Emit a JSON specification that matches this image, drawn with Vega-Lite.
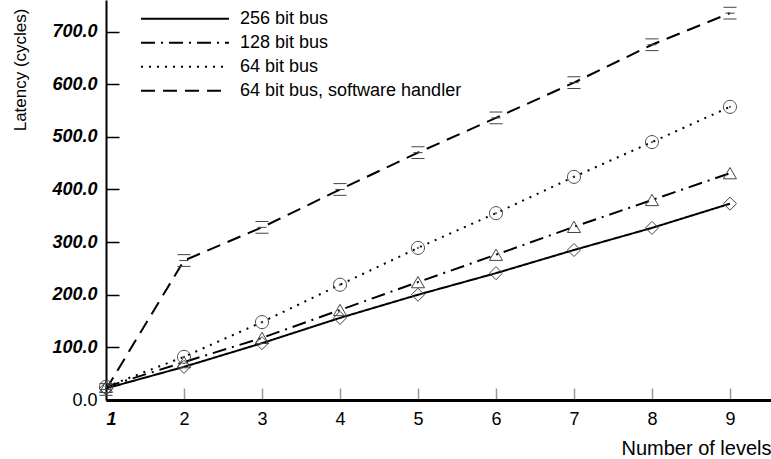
{
  "$schema": "https://vega.github.io/schema/vega-lite/v6.json",
  "autosize": "none",
  "padding": {"left": 106, "top": 0, "right": 0, "bottom": 59},
  "width": 665,
  "height": 400,
  "background": "white",
  "config": {
    "font": "Liberation Sans",
    "view": {"stroke": null},
    "point": {"filled": false, "color": "#444", "strokeWidth": 1, "size": 170, "opacity": 1}
  },
  "data": {
    "values": [
      {"levels": 1, "latency": 22, "series": "256 bit bus"},
      {"levels": 2, "latency": 63, "series": "256 bit bus"},
      {"levels": 3, "latency": 108, "series": "256 bit bus"},
      {"levels": 4, "latency": 156, "series": "256 bit bus"},
      {"levels": 5, "latency": 200, "series": "256 bit bus"},
      {"levels": 6, "latency": 241, "series": "256 bit bus"},
      {"levels": 7, "latency": 285, "series": "256 bit bus"},
      {"levels": 8, "latency": 327, "series": "256 bit bus"},
      {"levels": 9, "latency": 373, "series": "256 bit bus"},
      {"levels": 1, "latency": 25, "series": "128 bit bus"},
      {"levels": 2, "latency": 72, "series": "128 bit bus"},
      {"levels": 3, "latency": 118, "series": "128 bit bus"},
      {"levels": 4, "latency": 171, "series": "128 bit bus"},
      {"levels": 5, "latency": 224, "series": "128 bit bus"},
      {"levels": 6, "latency": 276, "series": "128 bit bus"},
      {"levels": 7, "latency": 329, "series": "128 bit bus"},
      {"levels": 8, "latency": 380, "series": "128 bit bus"},
      {"levels": 9, "latency": 431, "series": "128 bit bus"},
      {"levels": 1, "latency": 25, "series": "64 bit bus"},
      {"levels": 2, "latency": 82, "series": "64 bit bus"},
      {"levels": 3, "latency": 148, "series": "64 bit bus"},
      {"levels": 4, "latency": 219, "series": "64 bit bus"},
      {"levels": 5, "latency": 289, "series": "64 bit bus"},
      {"levels": 6, "latency": 355, "series": "64 bit bus"},
      {"levels": 7, "latency": 424, "series": "64 bit bus"},
      {"levels": 8, "latency": 490, "series": "64 bit bus"},
      {"levels": 9, "latency": 557, "series": "64 bit bus"},
      {"levels": 1, "latency": 20, "series": "64 bit bus, software handler"},
      {"levels": 2, "latency": 265, "series": "64 bit bus, software handler"},
      {"levels": 3, "latency": 328, "series": "64 bit bus, software handler"},
      {"levels": 4, "latency": 400, "series": "64 bit bus, software handler"},
      {"levels": 5, "latency": 470, "series": "64 bit bus, software handler"},
      {"levels": 6, "latency": 536, "series": "64 bit bus, software handler"},
      {"levels": 7, "latency": 603, "series": "64 bit bus, software handler"},
      {"levels": 8, "latency": 675, "series": "64 bit bus, software handler"},
      {"levels": 9, "latency": 735, "series": "64 bit bus, software handler"}
    ]
  },
  "encoding": {
    "x": {
      "field": "levels",
      "type": "quantitative",
      "scale": {"domain": [1, 9.526], "nice": false, "zero": false},
      "axis": {
        "values": [1, 2, 3, 4, 5, 6, 7, 8, 9],
        "format": "d",
        "grid": false,
        "domainColor": "black",
        "domainWidth": 3,
        "tickColor": "#999",
        "tickWidth": 1.5,
        "tickSize": -12,
        "labelFontSize": 18,
        "labelColor": "black",
        "labelPadding": 22,
        "labelFontWeight": {"condition": {"test": "datum.value === 1", "value": "bold"}, "value": "normal"},
        "labelFontStyle": {"condition": {"test": "datum.value === 1", "value": "italic"}, "value": "normal"},
        "title": "Number of levels",
        "titleFontSize": 20,
        "titleFontWeight": "normal",
        "titleColor": "black",
        "titleX": 665,
        "titleY": 54,
        "titleAlign": "right",
        "titleBaseline": "alphabetic",
        "titleAngle": 0
      }
    },
    "y": {
      "field": "latency",
      "type": "quantitative",
      "scale": {"domain": [0, 760], "nice": false},
      "axis": {
        "values": [0, 100, 200, 300, 400, 500, 600, 700],
        "format": ".1f",
        "grid": false,
        "domainColor": "black",
        "domainWidth": 2,
        "tickColor": "black",
        "tickWidth": 1.5,
        "tickSize": -13,
        "labelFontSize": 18,
        "labelColor": "black",
        "labelPadding": 22,
        "labelFontWeight": {"condition": {"test": "datum.value === 0", "value": "normal"}, "value": "bold"},
        "labelFontStyle": {"condition": {"test": "datum.value === 0", "value": "normal"}, "value": "italic"},
        "title": "Latency (cycles)",
        "titleFontSize": 17,
        "titleFontWeight": "normal",
        "titleColor": "black",
        "titleAngle": 270,
        "titleX": -86,
        "titleY": 8,
        "titleAlign": "right",
        "titleBaseline": "middle"
      }
    }
  },
  "layer": [
    {
      "mark": {"type": "line", "color": "black", "strokeWidth": 2},
      "encoding": {
        "strokeDash": {
          "field": "series",
          "type": "nominal",
          "scale": {
            "domain": ["256 bit bus", "128 bit bus", "64 bit bus", "64 bit bus, software handler"],
            "range": [[1, 0], [14, 6, 2, 6], [2, 6], [14, 8]]
          },
          "legend": {
            "orient": "none",
            "legendX": 34,
            "legendY": 7,
            "title": null,
            "symbolType": "stroke",
            "symbolSize": 7744,
            "symbolStrokeWidth": 2,
            "symbolStrokeColor": "black",
            "clipHeight": 23.5,
            "rowPadding": 0,
            "labelOffset": 10,
            "labelFontSize": 18,
            "labelColor": "black",
            "labelLimit": 400
          }
        }
      }
    },
    {
      "transform": [{"filter": "datum.series === '256 bit bus'"}],
      "mark": {"type": "point", "shape": "diamond"}
    },
    {
      "transform": [{"filter": "datum.series === '128 bit bus'"}],
      "mark": {"type": "point", "shape": "triangle-up"}
    },
    {
      "transform": [{"filter": "datum.series === '64 bit bus'"}],
      "mark": {"type": "point", "shape": "M-1,0A1,1,0,1,0,1,0A1,1,0,1,0,-1,0ZM-0.12,0A0.12,0.12,0,1,0,0.12,0A0.12,0.12,0,1,0,-0.12,0Z"}
    },
    {
      "transform": [{"filter": "datum.series === '64 bit bus, software handler'"}],
      "mark": {"type": "point", "shape": "M-1,-0.9H1M-0.7,0H0.7M-1,0.9H1"}
    }
  ]
}
